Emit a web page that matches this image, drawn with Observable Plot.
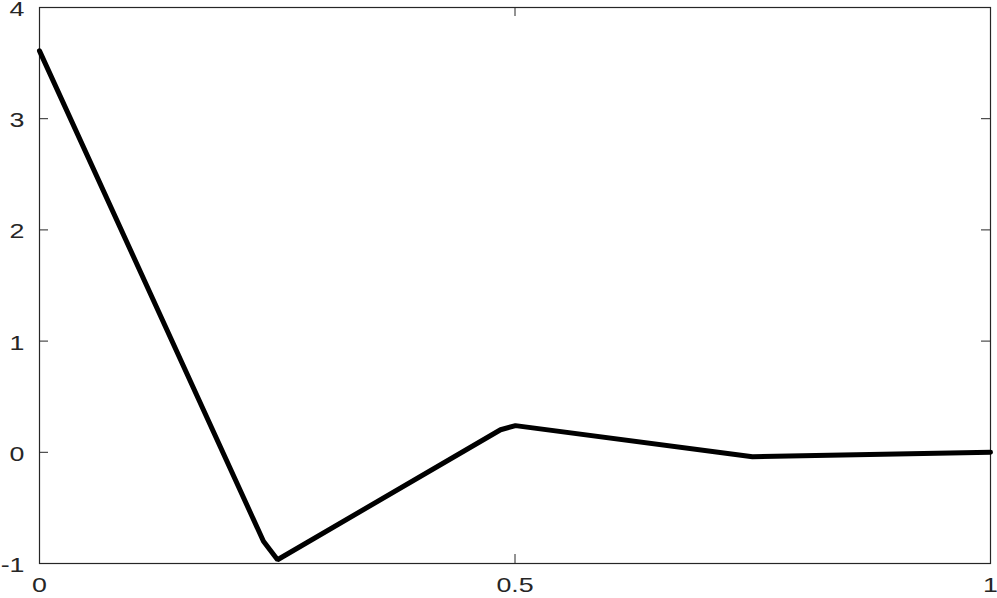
<!DOCTYPE html>
<html>
<head>
<meta charset="utf-8">
<script src="https://cdn.jsdelivr.net/npm/d3@7"></script>
<script src="https://cdn.jsdelivr.net/npm/@observablehq/plot@0.6"></script>
<style>
  html, body { margin: 0; padding: 0; background: #fff; }
  svg { display: block; }
</style>
</head>
<body>
<div id="chart"></div>
<script>
const xValues = [0, 0.2355, 0.2503, 0.4848, 0.5005, 0.7497, 1];
const yValues = [3.61, -0.80, -0.966, 0.203, 0.24, -0.04, 0.0];
const xTicks = [0, 0.5, 1];
const xTickLabels = ["0", "0.5", "1"];
const yTicks = [-1, 0, 1, 2, 3, 4];
const yTickLabels = ["-1", "0", "1", "2", "3", "4"];

const data = xValues.map((x, i) => ({x, y: yValues[i]}));

const W = 997, H = 598;
const mL = 39, mR = 7, mT = 7, mB = 35;
const tickLen = 9;
const plotW = W - mL - mR, plotH = H - mT - mB;

const chart = Plot.plot({
  width: W,
  height: H,
  marginLeft: mL,
  marginRight: mR,
  marginTop: mT,
  marginBottom: mB,
  style: {fontFamily: "'Liberation Sans', Arial, sans-serif", fontSize: "20px", color: "#262626", background: "#fff", overflow: "visible"},
  x: {domain: [0, 1]},
  y: {domain: [-1, 4]},
  marks: [
    Plot.frame({stroke: "#262626", strokeWidth: 1.2}),
    Plot.ruleX(xTicks, {insetTop: plotH - tickLen, stroke: "#262626", strokeWidth: 1}),
    Plot.ruleX(xTicks, {insetBottom: plotH - tickLen, stroke: "#262626", strokeWidth: 1}),
    Plot.ruleY(yTicks, {insetRight: plotW - tickLen, stroke: "#262626", strokeWidth: 1}),
    Plot.ruleY(yTicks, {insetLeft: plotW - tickLen, stroke: "#262626", strokeWidth: 1}),
    Plot.axisX({ticks: xTicks, tickFormat: (d) => xTickLabels[xTicks.indexOf(d)], tickSize: 0, tickPadding: 14, label: null, fill: "#262626"}),
    Plot.axisY({ticks: yTicks, tickFormat: (d) => yTickLabels[yTicks.indexOf(d)], tickSize: 0, tickPadding: 15, label: null, fill: "#262626", dy: 2}),
    Plot.line(data, {x: "x", y: "y", stroke: "#000", strokeWidth: 5, strokeLinejoin: "miter", curve: "linear"})
  ]
});
// stretch tick label glyphs horizontally like the reference font
chart.querySelectorAll('g[aria-label$="tick label"] text').forEach(t => {
  const tr = t.getAttribute("transform") || "";
  t.setAttribute("transform", tr + " scale(1.34,1)");
});
document.getElementById("chart").appendChild(chart);
</script>
</body>
</html>
